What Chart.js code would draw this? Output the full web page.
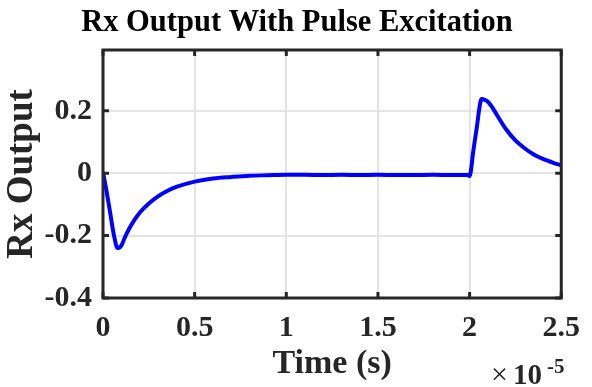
<!DOCTYPE html>
<html>
<head>
<meta charset="utf-8">
<script src="https://cdn.jsdelivr.net/npm/chart.js@4/dist/chart.umd.min.js"></script>
<style>
  html, body { margin: 0; padding: 0; background: #fff; }
  #chart { display: block; }
</style>
</head>
<body>
<canvas id="chart" width="592" height="387"></canvas>
<script>
'use strict';

// time in units of 1e-5 s
const timeScaled = [0, 0.02, 0.04, 0.06, 0.08, 0.10, 0.12, 0.15, 0.20, 0.25, 0.30, 0.35, 0.40, 0.50, 0.60, 0.70, 0.80, 0.90,
  1.00, 1.10, 1.20, 1.30, 1.40, 1.50, 1.60, 1.70, 1.80, 1.90, 1.99, 2.00, 2.005, 2.02, 2.04, 2.055, 2.065, 2.08, 2.10,
  2.123, 2.15, 2.20, 2.25, 2.30, 2.35, 2.40, 2.45, 2.50];
const rxOutput = [0.004, -0.06, -0.13, -0.20, -0.240, -0.232, -0.205, -0.170, -0.127, -0.097, -0.074, -0.057, -0.044, -0.027, -0.017, -0.012, -0.008, -0.0065,
  -0.005, -0.005, -0.006, -0.005, -0.006, -0.005, -0.006, -0.006, -0.005, -0.006, -0.006, -0.009, 0.0, 0.07, 0.15, 0.215, 0.238, 0.236, 0.229,
  0.212, 0.186, 0.140, 0.105, 0.080, 0.060, 0.046, 0.035, 0.025];

const xTicks = [0, 0.5, 1, 1.5, 2, 2.5];
const yTicks = [-0.4, -0.2, 0, 0.2];

const titleText = 'Rx Output With Pulse Excitation';
const axisColor = '#262626';
const serif = "'Liberation Serif', 'Times New Roman', serif";

// title, box round the axes with inward tick marks, and the x10^-5 exponent
const matlabBox = {
  id: 'matlabBox',
  afterDatasetsDraw(chart) {
    const { ctx, chartArea: a, scales } = chart;
    ctx.save();
    ctx.strokeStyle = axisColor;
    ctx.lineWidth = 3;
    ctx.strokeRect(a.left, a.top, a.right - a.left, a.bottom - a.top);
    const tl = 6;
    ctx.beginPath();
    xTicks.forEach(v => {
      const x = scales.x.getPixelForValue(v);
      ctx.moveTo(x, a.bottom); ctx.lineTo(x, a.bottom - tl);
      ctx.moveTo(x, a.top); ctx.lineTo(x, a.top + tl);
    });
    yTicks.forEach(v => {
      const y = scales.y.getPixelForValue(v);
      ctx.moveTo(a.left, y); ctx.lineTo(a.left + tl, y);
      ctx.moveTo(a.right, y); ctx.lineTo(a.right - tl, y);
    });
    ctx.stroke();

    ctx.textBaseline = 'alphabetic';
    ctx.fillStyle = '#000';
    ctx.textAlign = 'center';
    ctx.font = 'bold 30.5px ' + serif;
    ctx.fillText(titleText, 297, 31);

    ctx.fillStyle = axisColor;
    ctx.textAlign = 'left';
    ctx.font = '30px ' + serif;
    ctx.fillText('\u00d7', 491, 384);
    ctx.font = 'bold 29px ' + serif;
    ctx.fillText('10', 513, 384);
    ctx.font = 'bold 21px ' + serif;
    ctx.fillText('-5', 547, 373);
    ctx.restore();
  }
};

const chartData = {
  datasets: [{
    label: 'Rx Output',
    data: timeScaled.map((t, i) => ({ x: t, y: rxOutput[i] })),
    borderColor: '#0000ff',
    borderWidth: 4,
    pointRadius: 0,
    cubicInterpolationMode: 'monotone',
    fill: false,
  }]
};

const chartConfig = {
  type: 'line',
  data: chartData,
  options: {
    responsive: false,
    animation: false,
    layout: { padding: { left: 0, right: 22, top: 50, bottom: 0 } },
    plugins: {
      legend: { display: false },
      tooltip: { enabled: false },
      title: { display: false },
    },
    scales: {
      x: {
        type: 'linear',
        min: 0,
        max: 2.5,
        afterBuildTicks: s => { s.ticks = xTicks.map(v => ({ value: v })); },
        afterFit: s => { s.height = 89; },
        border: { display: false },
        grid: { color: '#e3e3e3', lineWidth: 2, drawTicks: false },
        ticks: {
          color: axisColor,
          padding: 12,
          maxRotation: 0,
          autoSkip: false,
          font: { family: serif, size: 30, weight: 'bold' },
          callback: v => String(v),
        },
        title: {
          display: true,
          text: 'Time (s)',
          color: axisColor,
          font: { family: serif, size: 34, weight: 'bold' },
          padding: { top: 0, bottom: 2 },
        },
      },
      y: {
        type: 'linear',
        min: -0.4,
        max: 0.395,
        afterBuildTicks: s => { s.ticks = yTicks.map(v => ({ value: v })); },
        afterFit: s => { s.width = 103; },
        border: { display: false },
        grid: { color: '#e3e3e3', lineWidth: 2, drawTicks: false },
        ticks: {
          color: axisColor,
          padding: 11,
          autoSkip: false,
          font: { family: serif, size: 30, weight: 'bold' },
          callback: v => String(v),
        },
        title: {
          display: true,
          text: 'Rx Output',
          color: axisColor,
          font: { family: serif, size: 37, weight: 'bold' },
          padding: { top: 0, bottom: 0 },
        },
      },
    },
  },
  plugins: [matlabBox],
};

const canvasElem = document.getElementById('chart');
const myChart = new Chart(canvasElem, chartConfig);
</script>
</body>
</html>
